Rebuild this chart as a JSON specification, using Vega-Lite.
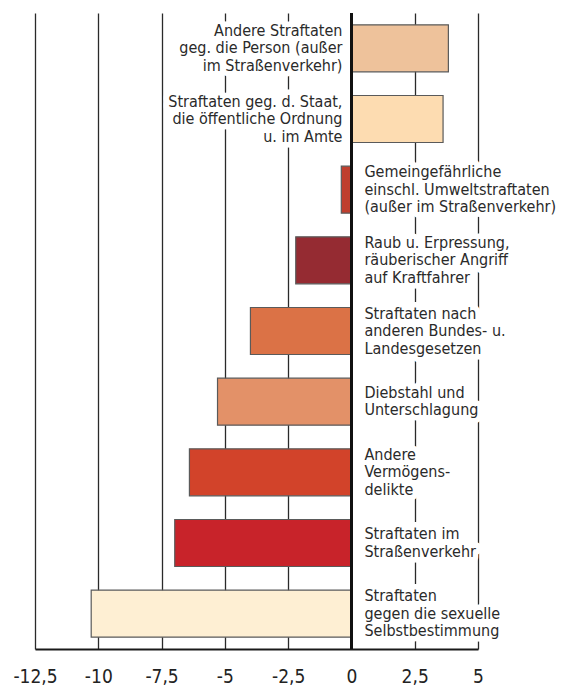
{
  "$schema": "https://vega.github.io/schema/vega-lite/v6.json",
  "autosize": "none",
  "width": 443,
  "height": 636,
  "padding": {"left": 35, "top": 13, "right": 84, "bottom": 39},
  "background": "white",
  "config": {"view": {"stroke": null}, "font": "'DejaVu Sans Condensed', Roboto, sans-serif"},
  "data": {
    "values": [
      {"kategorie": "Andere Straftaten gegen die Person", "label": "Andere Straftaten\ngeg. die Person (außer\nim Straßenverkehr)", "wert": 3.83},
      {"kategorie": "Straftaten gegen den Staat", "label": "Straftaten geg. d. Staat,\ndie öffentliche Ordnung\nu. im Amte", "wert": 3.62},
      {"kategorie": "Gemeingefährliche Straftaten", "label": "Gemeingefährliche\neinschl. Umweltstraftaten\n(außer im Straßenverkehr)", "wert": -0.4},
      {"kategorie": "Raub und Erpressung", "label": "Raub u. Erpressung,\nräuberischer Angriff\nauf Kraftfahrer", "wert": -2.2},
      {"kategorie": "Bundes- und Landesgesetze", "label": "Straftaten nach\nanderen Bundes- u.\nLandesgesetzen", "wert": -3.99},
      {"kategorie": "Diebstahl und Unterschlagung", "label": "Diebstahl und\nUnterschlagung", "wert": -5.29},
      {"kategorie": "Andere Vermögensdelikte", "label": "Andere\nVermögens-\ndelikte", "wert": -6.4},
      {"kategorie": "Straftaten im Straßenverkehr", "label": "Straftaten im\nStraßenverkehr", "wert": -6.98},
      {"kategorie": "Sexuelle Selbstbestimmung", "label": "Straftaten\ngegen die sexuelle\nSelbstbestimmung", "wert": -10.28}
    ]
  },
  "encoding": {
    "y": {"field": "kategorie", "type": "nominal", "sort": null, "axis": null,
          "scale": {"paddingInner": 0.335, "paddingOuter": 0.1675}}
  },
  "layer": [
    {
      "mark": {"type": "bar", "stroke": "#5a5a5a", "strokeWidth": 1.2},
      "encoding": {
        "x": {"field": "wert", "type": "quantitative",
              "scale": {"domain": [-12.5, 5], "nice": false, "zero": false},
              "axis": {"values": [-12.5, -10, -7.5, -5, -2.5, 0, 2.5, 5], "title": null,
                       "grid": true, "gridColor": "#2a2a2a", "gridWidth": 1.3,
                       "domain": true, "domainColor": "#1a1a1a", "domainWidth": 2.2,
                       "ticks": false, "labelPadding": 18, "labelFontSize": 19, "labelFlush": false,
                       "labelColor": "#222", "labelFont": "'DejaVu Sans Condensed', Roboto, sans-serif",
                       "labelExpr": "replace(toString(datum.value), '.', ',')"}},
        "x2": {"datum": 0},
        "color": {"field": "kategorie", "type": "nominal", "legend": null,
                  "scale": {"domain": ["Andere Straftaten gegen die Person", "Straftaten gegen den Staat", "Gemeingefährliche Straftaten", "Raub und Erpressung", "Bundes- und Landesgesetze", "Diebstahl und Unterschlagung", "Andere Vermögensdelikte", "Straftaten im Straßenverkehr", "Sexuelle Selbstbestimmung"],
                            "range": ["#EEC29B", "#FDDCB1", "#BF3F2E", "#952B32", "#DB7246", "#E39168", "#D2432A", "#C8232A", "#FEEFD3"]}}
      }
    },
    {
      "transform": [{"filter": "datum.wert < 0 && length(split(datum.label, '\\n')) == 3"}],
      "mark": {"type": "text", "align": "left", "baseline": "middle", "dx": 13, "dy": -17.5, "fontSize": 16, "lineHeight": 17.5, "lineBreak": "\n", "fill": "white", "stroke": "white", "strokeWidth": 11, "strokeJoin": "round"},
      "encoding": {"x": {"datum": 0, "type": "quantitative"}, "text": {"field": "label"}}
    },
    {
      "transform": [{"filter": "datum.wert < 0 && length(split(datum.label, '\\n')) == 2"}],
      "mark": {"type": "text", "align": "left", "baseline": "middle", "dx": 13, "dy": -8.75, "fontSize": 16, "lineHeight": 17.5, "lineBreak": "\n", "fill": "white", "stroke": "white", "strokeWidth": 11, "strokeJoin": "round"},
      "encoding": {"x": {"datum": 0, "type": "quantitative"}, "text": {"field": "label"}}
    },
    {
      "transform": [{"filter": "datum.wert >= 0"}],
      "mark": {"type": "text", "align": "right", "baseline": "middle", "dx": -9, "dy": -17.5, "fontSize": 16, "lineHeight": 17.5, "lineBreak": "\n", "fill": "white", "stroke": "white", "strokeWidth": 11, "strokeJoin": "round"},
      "encoding": {"x": {"datum": 0, "type": "quantitative"}, "text": {"field": "label"}}
    },
    {
      "transform": [{"filter": "datum.wert < 0 && length(split(datum.label, '\\n')) == 3"}],
      "mark": {"type": "text", "align": "left", "baseline": "middle", "dx": 13, "dy": -17.5, "fontSize": 16, "lineHeight": 17.5, "lineBreak": "\n", "color": "#2a2a2a"},
      "encoding": {"x": {"datum": 0, "type": "quantitative"}, "text": {"field": "label"}}
    },
    {
      "transform": [{"filter": "datum.wert < 0 && length(split(datum.label, '\\n')) == 2"}],
      "mark": {"type": "text", "align": "left", "baseline": "middle", "dx": 13, "dy": -8.75, "fontSize": 16, "lineHeight": 17.5, "lineBreak": "\n", "color": "#2a2a2a"},
      "encoding": {"x": {"datum": 0, "type": "quantitative"}, "text": {"field": "label"}}
    },
    {
      "transform": [{"filter": "datum.wert >= 0"}],
      "mark": {"type": "text", "align": "right", "baseline": "middle", "dx": -9, "dy": -17.5, "fontSize": 16, "lineHeight": 17.5, "lineBreak": "\n", "color": "#2a2a2a"},
      "encoding": {"x": {"datum": 0, "type": "quantitative"}, "text": {"field": "label"}}
    },
    {
      "mark": {"type": "rule", "color": "#111", "strokeWidth": 2.6},
      "encoding": {"x": {"datum": 0, "type": "quantitative"}, "y": {"value": 0}, "y2": {"value": 636}}
    }
  ]
}
